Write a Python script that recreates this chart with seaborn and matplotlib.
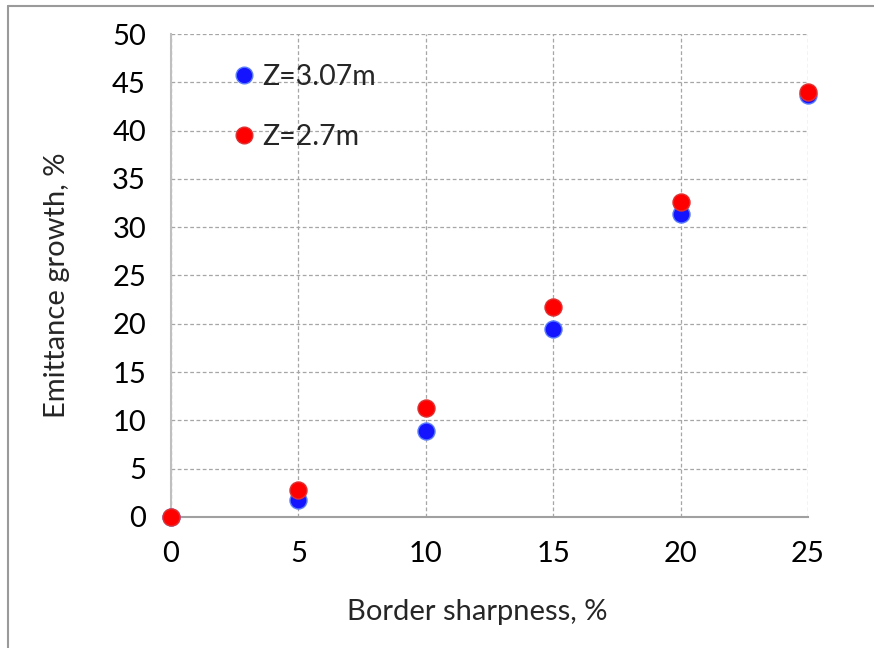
import matplotlib
matplotlib.use("Agg")
import matplotlib.pyplot as plt
from matplotlib.lines import Line2D
import seaborn as sns
import pandas as pd

# Border sharpness (%) and emittance growth (%) at two positions
sharpness = [0, 5, 10, 15, 20, 25]
growth_z307 = [0.0, 1.8, 8.9, 19.5, 31.4, 43.7]
growth_z27 = [0.0, 2.8, 11.3, 21.7, 32.6, 44.0]
series_labels = ["Z=3.07m", "Z=2.7m"]
series_colors = ["#1414ff", "#ff0000"]
x_ticks = [0, 5, 10, 15, 20, 25]
y_ticks = [0, 5, 10, 15, 20, 25, 30, 35, 40, 45, 50]

df = pd.concat([
    pd.DataFrame({"x": sharpness, "y": growth_z307, "series": series_labels[0]}),
    pd.DataFrame({"x": sharpness, "y": growth_z27, "series": series_labels[1]}),
])

sns.set_theme(style="white")
plt.rcParams["font.family"] = ["Lato", "DejaVu Sans"]

fig = plt.figure(figsize=(8.74, 6.48), dpi=100)
ax = fig.add_axes([0.1957, 0.2022, 0.9245 - 0.1957, 0.9475 - 0.2022])

edge = {series_labels[0]: "#5a7cff", series_labels[1]: "#e03030"}
for lab, col in zip(series_labels, series_colors):
    sns.scatterplot(data=df[df["series"] == lab], x="x", y="y", ax=ax,
                    color=col, s=150, edgecolor=edge[lab], linewidth=1.0,
                    zorder=3, legend=False)

ax.set_xlim(0, 25)
ax.set_ylim(0, 50)
ax.set_xticks(x_ticks)
ax.set_yticks(y_ticks)
ax.tick_params(axis="both", length=0, labelsize=21, colors="black")
ax.tick_params(axis="x", pad=17)
ax.tick_params(axis="y", pad=18)
for coll in ax.collections:
    coll.set_clip_on(False)

ax.grid(True, color="#a6a6a6", linestyle=(0, (3, 2)), linewidth=0.9)
ax.set_axisbelow(True)
for side in ["top", "right"]:
    ax.spines[side].set_visible(False)
ax.spines["left"].set_color("#bfbfbf")
ax.spines["left"].set_linewidth(1.5)
ax.spines["bottom"].set_color("#a0a0a0")
ax.spines["bottom"].set_linewidth(1.5)

ax.set_xlabel("Border sharpness, %", fontsize=21)
ax.xaxis.set_label_coords(0.48, -0.17)
ax.set_ylabel("Emittance growth, %", fontsize=21)
ax.yaxis.set_label_coords(-0.158, 0.48)

handles = [Line2D([0], [0], marker="o", linestyle="", markersize=12,
                  markerfacecolor=c, markeredgecolor=edge[l], label=l)
           for l, c in zip(series_labels, series_colors)]
ax.legend(handles=handles, loc="upper left", bbox_to_anchor=(0.07, 0.962),
          frameon=False, fontsize=20.5, handletextpad=0.05, labelspacing=1.2,
          handlelength=1.2, borderaxespad=0)

# chart frame (top and left edges)
fig.add_artist(Line2D([8 / 874, 8 / 874], [0, 1 - 6 / 648],
                      transform=fig.transFigure, color="#9a9a9a", linewidth=1.5))
fig.add_artist(Line2D([8 / 874, 1], [1 - 6 / 648, 1 - 6 / 648],
                      transform=fig.transFigure, color="#9a9a9a", linewidth=1.5))

fig.savefig("out.png", dpi=100)
